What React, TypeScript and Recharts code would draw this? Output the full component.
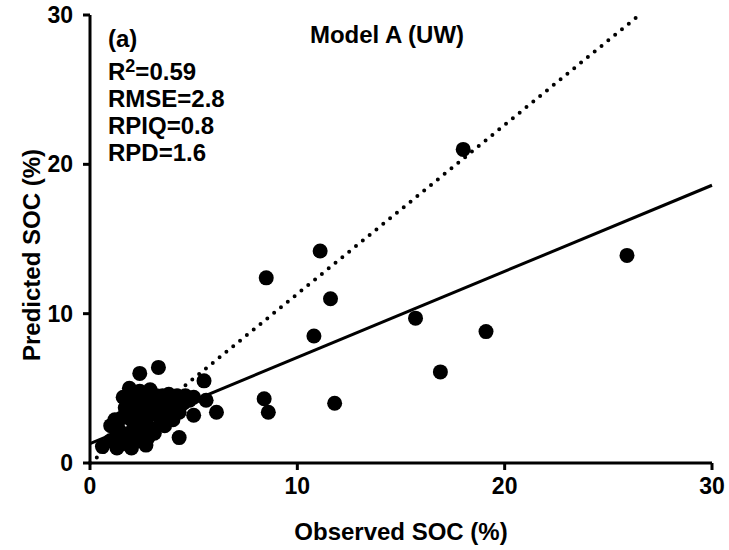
import React from "react";
import { ScatterChart, Scatter, XAxis, YAxis, ReferenceLine } from "recharts";

// Observed SOC (%) and predicted SOC (%) pairs
const observedSOC = [
  18.0, 25.9, 8.5, 11.1, 11.6, 10.8, 15.7, 19.1, 16.9, 8.4, 8.6, 11.8,
  2.4, 3.3, 1.9, 1.8, 5.5, 5.6, 6.1, 5.0, 4.3, 4.8, 4.2,
  0.6, 1.0, 1.3, 1.6, 2.0, 1.8, 2.3, 1.4, 2.1, 2.5, 2.8, 3.0, 2.7, 2.4, 1.9,
  1.7, 2.2, 2.6, 3.1, 3.4, 3.3, 2.9, 3.6, 3.9, 3.8, 4.2, 4.5, 4.6, 5.0, 4.3,
  2.0, 2.4, 2.9, 1.8, 3.5, 1.2, 4.0, 1.6,
  1.5, 2.2, 2.6, 3.1, 3.6, 1.0, 2.0, 3.2, 3.9, 2.7, 1.3, 2.9,
];
const predictedSOC = [
  21.0, 13.9, 12.4, 14.2, 11.0, 8.5, 9.7, 8.8, 6.1, 4.3, 3.4, 4.0,
  6.0, 6.4, 5.0, 4.2, 5.5, 4.2, 3.4, 3.2, 1.7, 4.2, 4.2,
  1.1, 1.5, 1.0, 1.3, 1.0, 1.8, 1.5, 2.2, 2.3, 2.1, 1.7, 2.3, 2.9, 3.3, 3.0,
  3.7, 4.0, 3.7, 3.3, 2.9, 4.0, 4.4, 3.6, 4.1, 4.6, 4.5, 4.0, 4.5, 4.4, 3.4,
  4.6, 4.8, 4.9, 4.5, 4.5, 2.9, 2.9, 4.4,
  3.0, 2.6, 3.9, 2.0, 2.5, 2.5, 3.5, 4.5, 3.5, 1.2, 1.9, 3.8,
];
const axisTicks = [0, 10, 20, 30];
const fitLine = [{ x: 0, y: 1.3 }, { x: 30, y: 18.6 }];
const refLine = [{ x: 0, y: 0 }, { x: 26.5, y: 30 }];
const panelLabel = "(a)";
const modelTitle = "Model A (UW)";
const statLines = ["RMSE=2.8", "RPIQ=0.8", "RPD=1.6"];
const r2Value = "=0.59";

const points = observedSOC.map((x, i) => ({ x, y: predictedSOC[i] }));

const FONT = "'Liberation Sans', Arial, sans-serif";

const Dot = (props: any) => (
  <circle cx={props.cx} cy={props.cy} r={7.5} fill="#000" />
);

export default function App() {
  const W = 729;
  const H = 550;
  return (
    <div style={{ position: "absolute", left: 0, top: 0, width: W, height: H, background: "#fff" }}>
      <ScatterChart
        width={W}
        height={H}
        margin={{ top: 15, right: 17, bottom: 37, left: 30 }}
      >
        <XAxis
          type="number"
          dataKey="x"
          domain={[0, 30]}
          ticks={axisTicks}
          height={50}
          axisLine={{ stroke: "#000", strokeWidth: 3 }}
          tickLine={{ stroke: "#000", strokeWidth: 3 }}
          tickSize={7}
          tickMargin={8}
          tick={{ fill: "#000", fontSize: 23, fontWeight: "bold", fontFamily: FONT }}
          allowDataOverflow
        />
        <YAxis
          type="number"
          dataKey="y"
          domain={[0, 30]}
          ticks={axisTicks}
          width={60}
          axisLine={{ stroke: "#000", strokeWidth: 3 }}
          tickLine={{ stroke: "#000", strokeWidth: 3 }}
          tickSize={7}
          tickMargin={10}
          tick={{ fill: "#000", fontSize: 23, fontWeight: "bold", fontFamily: FONT }}
          allowDataOverflow
        />
        <ReferenceLine
          segment={refLine}
          stroke="#000"
          strokeWidth={4}
          strokeDasharray="0 8.8"
          strokeLinecap="round"
          ifOverflow="visible"
        />
        <ReferenceLine
          segment={fitLine}
          stroke="#000"
          strokeWidth={3}
          ifOverflow="visible"
        />
        <Scatter data={points} shape={<Dot />} isAnimationActive={false} />
      </ScatterChart>
      <svg
        width={W}
        height={H}
        style={{ position: "absolute", left: 0, top: 0, pointerEvents: "none" }}
        fontFamily={FONT}
        fontWeight="bold"
        fill="#000"
      >
        <text x={108} y={47} fontSize={24}>{panelLabel}</text>
        <text x={387} y={43} fontSize={24} textAnchor="middle">{modelTitle}</text>
        <text x={108} y={80} fontSize={24}>
          R<tspan fontSize={18} dy={-8}>2</tspan>
          <tspan dy={8}>{r2Value}</tspan>
        </text>
        {statLines.map((s, i) => (
          <text key={s} x={108} y={107 + i * 27} fontSize={24}>{s}</text>
        ))}
        <text x={401} y={540} fontSize={24} textAnchor="middle">Observed SOC (%)</text>
        <text
          x={0}
          y={0}
          fontSize={24}
          textAnchor="middle"
          transform="translate(40,255) rotate(-90)"
        >
          Predicted SOC (%)
        </text>
      </svg>
    </div>
  );
}
